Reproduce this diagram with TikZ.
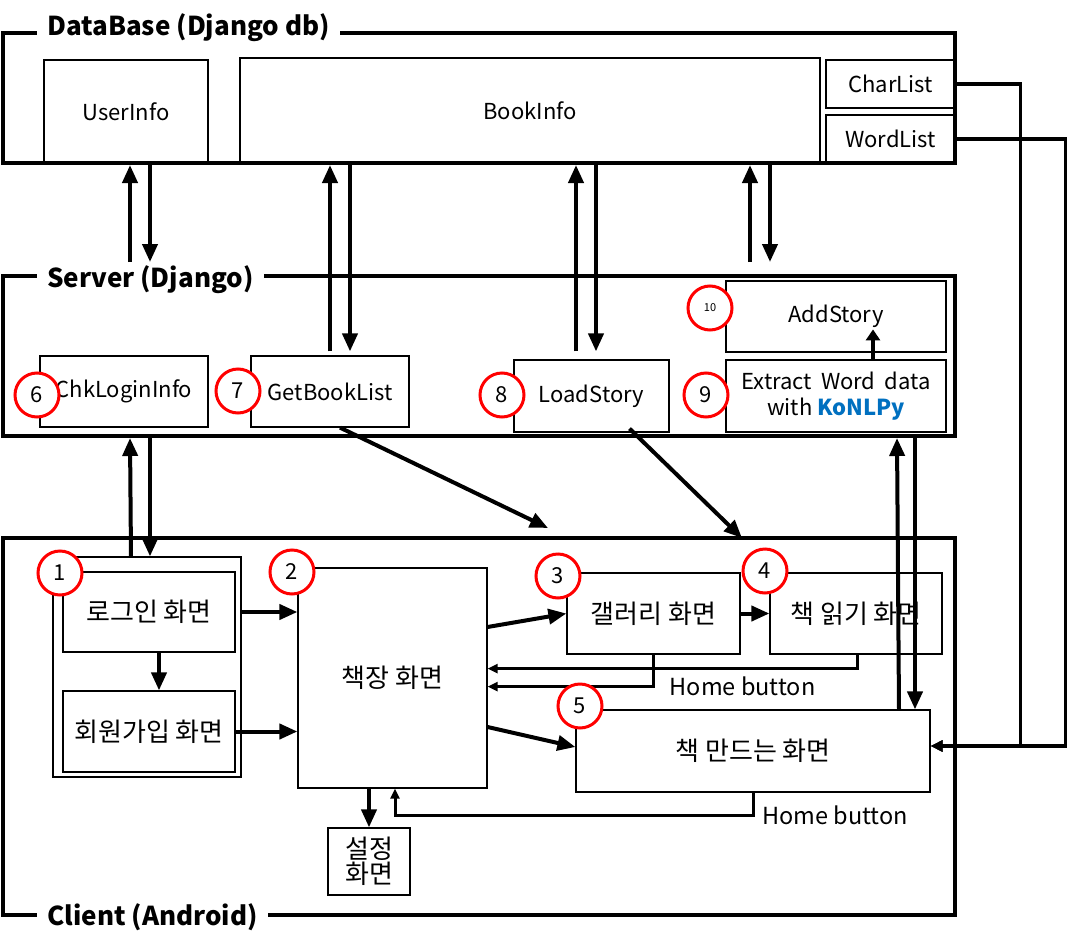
\documentclass[tikz,border=0pt]{standalone}
\usepackage{fontspec}
\setmainfont{Noto Sans CJK KR}
\usetikzlibrary{arrows.meta,positioning,calc}
\definecolor{konlpyblue}{RGB}{0,112,192}
\tikzset{
  sysframe/.style={draw, line width=4pt, inner sep=0pt},
  box/.style={draw, line width=1.2pt, fill=white, align=center, inner sep=0pt, font=\fontsize{22}{26}\selectfont},
  kbox/.style={box, font=\fontsize{26}{30}\selectfont},
  num/.style={circle, draw=red, line width=3pt, fill=white, minimum size=44pt, inner sep=0pt, font=\fontsize{22}{26}\selectfont},
  frametitle/.style={fill=white, anchor=base west, inner xsep=10pt, inner ysep=3pt, font=\bfseries\fontsize{26}{30}\selectfont},
  hometext/.style={inner sep=0pt, font=\fontsize{23.5}{28}\selectfont},
  thickarr/.style={line width=4pt, -{Triangle[length=18pt,width=15pt]}},
  shortarr/.style={line width=4pt, -{Triangle[length=11pt,width=14pt]}},
  homearr/.style={line width=3pt, -{Triangle[length=10pt,width=9pt]}},
  wirearr/.style={line width=3.5pt, -{Triangle[length=12pt,width=11pt]}}
}
\begin{document}
\begin{tikzpicture}[x=1pt,y=-1pt]
\useasboundingbox (0,0) rectangle (1069,948);
% DB 테이블
\node[box, minimum width=164pt, minimum height=103pt] (userinfo) at (126,111.5) {UserInfo};
\node[box, minimum width=580pt, minimum height=105pt] (bookinfo) at (530,110.5) {BookInfo};
\node[box, minimum width=129pt, minimum height=48pt] (charlist) at (890.5,84) {CharList};
\node[box, minimum width=129pt, minimum height=48pt] (wordlist) at (890.5,139) {WordList};
% 서버 함수
\node[box, minimum width=168pt, minimum height=71pt] (chklogin) at (124,391.5) {ChkLoginInfo};
\node[box, minimum width=158pt, minimum height=71pt] (getbook) at (330,391.5) {GetBookList};
\node[box, minimum width=155pt, minimum height=72pt] (loadstory) at (591.5,396) {LoadStory};
\node[box, minimum width=220pt, minimum height=71pt] (addstory) at (836,316.5) {AddStory};
\node[box, minimum width=220pt, minimum height=72pt] (extract) at (836,396)
  {Extract\hspace{9pt}Word\hspace{9pt}data\\with \textbf{\color{konlpyblue}KoNLPy}};
% 클라이언트 화면
\node[box, minimum width=188pt, minimum height=220pt] (logingrp) at (147,667) {};
\node[kbox, minimum width=172pt, minimum height=80pt] (login) at (149,612) {로그인 화면};
\node[kbox, minimum width=172pt, minimum height=81pt] (join) at (149,731.5) {회원가입 화면};
\node[kbox, minimum width=189pt, minimum height=220pt] (shelf) at (392.5,678) {책장 화면};
\node[kbox, minimum width=173pt, minimum height=81pt] (gallery) at (653.5,613.5) {갤러리 화면};
\node[kbox, minimum width=172pt, minimum height=81pt] (read) at (856,613.5) {책 읽기 화면};
\node[kbox, minimum width=354pt, minimum height=82pt] (make) at (753,751) {책 만드는 화면};
\node[kbox, minimum width=82pt, minimum height=67pt] (setting) at (369,861.5) {설정\\[-5pt]화면};
% 바깥 틀
\node[sysframe, minimum width=952pt, minimum height=130pt] (db) at (479,98) {};
\node[sysframe, minimum width=952pt, minimum height=160pt] (srv) at (479,356) {};
\node[sysframe, minimum width=952pt, minimum height=377pt] (cli) at (479,726.5) {};
\node[frametitle] (dbtitle) at (37,35.5) {DataBase (Django db)};
\node[frametitle] (srvtitle) at (37,287.5) {Server (Django)};
\node[frametitle] (clititle) at (37,925) {Client (Android)};
% DB <-> 서버
\foreach \x in {130,750}{
  \draw[thickarr] (\x,262) -- (\x,0 |- db.south);
  \draw[thickarr] ({\x+20},0 |- db.south) -- ({\x+20},262);
}
\coordinate (gb1) at ([yshift=4pt]getbook.north);
\coordinate (gb2) at ([xshift=20pt,yshift=4pt]getbook.north);
\draw[thickarr] (gb1) -- (gb1 |- db.south);
\draw[thickarr] (gb2 |- db.south) -- (gb2);
\coordinate (ls1) at ([xshift=-15.5pt,yshift=8pt]loadstory.north);
\coordinate (ls2) at ([xshift=4.5pt,yshift=8pt]loadstory.north);
\draw[thickarr] (ls1) -- (ls1 |- db.south);
\draw[thickarr] (ls2 |- db.south) -- (ls2);
\draw[shortarr] ([xshift=37pt]extract.north) -- ++(0,-30);
% 서버 <-> 클라이언트
\draw[thickarr] (131,0 |- logingrp.north) -- (130,0 |- srv.south);
\draw[thickarr] (150,0 |- srv.south) -- (150,0 |- logingrp.north);
\draw[thickarr] (899,0 |- make.north) -- (897,0 |- srv.south);
\draw[thickarr] (915,0 |- srv.south) -- (915,0 |- make.north);
\coordinate (toshelf) at (548,528);
\coordinate (toread) at (742,538);
\draw[thickarr] ([xshift=10pt]getbook.south) -- (toshelf);
\draw[thickarr] ([xshift=38pt,yshift=4pt]loadstory.south) -- (toread);
% 화면 이동
\draw[thickarr] (logingrp.east |- login.east) -- (login.east -| shelf.west);
\draw[thickarr] (join.east) -- (join.east -| shelf.west);
\draw[thickarr] ([xshift=10pt]login.south) -- ([xshift=10pt]join.north);
\draw[thickarr] ([yshift=51pt]shelf.east) -- (gallery.west);
\draw[thickarr] (gallery.east) -- (read.west);
\draw[thickarr] ([yshift=-49pt]shelf.east) -- ([yshift=4pt]make.west);
\draw[thickarr] (setting.north |- shelf.south) -- (setting.north);
% Home button
\coordinate (h1) at ([xshift=1pt,yshift=-14pt]read.south);
\coordinate (h2) at ([yshift=-32pt]gallery.south);
\coordinate (h3) at ([yshift=-23pt]make.south);
\coordinate (h4) at ([xshift=2.5pt]shelf.south);
\draw[homearr] ([xshift=1pt]read.south) -- (h1) -- (h1 -| shelf.east);
\draw[homearr] (gallery.south) -- (h2) -- (h2 -| shelf.east);
\draw[homearr] (make.south) -- (h3) -- (h3 -| h4) -- (h4);
\node[hometext, right=16pt of h2] (home1) {Home button};
\node[hometext, right=9pt of h3] (home2) {Home button};
% CharList, WordList -> 책 만드는 화면
\coordinate (w1) at ([xshift=65pt]charlist.east);
\coordinate (w2) at ([xshift=110pt]wordlist.east);
\coordinate (mk) at ([yshift=5pt]make.east);
\draw[wirearr] (charlist.east) -- (w1) |- (mk);
\draw[wirearr] (wordlist.east) -- (w2) |- (mk);
% 번호
\node[num] (n1) at (60,573) {1};
\node[num] (n2) at (292,572) {2};
\node[num] (n3) at (558,576) {3};
\node[num] (n4) at (765,571) {4};
\node[num] (n5) at (580,706) {5};
\node[num] (n6) at (37,395) {6};
\node[num] (n7) at (238,391) {7};
\node[num] (n8) at (502,395) {8};
\node[num] (n9) at (706,395) {9};
\node[num, font=\fontsize{11}{12}\selectfont] (n10) at (710,308) {10};
\end{tikzpicture}
\end{document}
